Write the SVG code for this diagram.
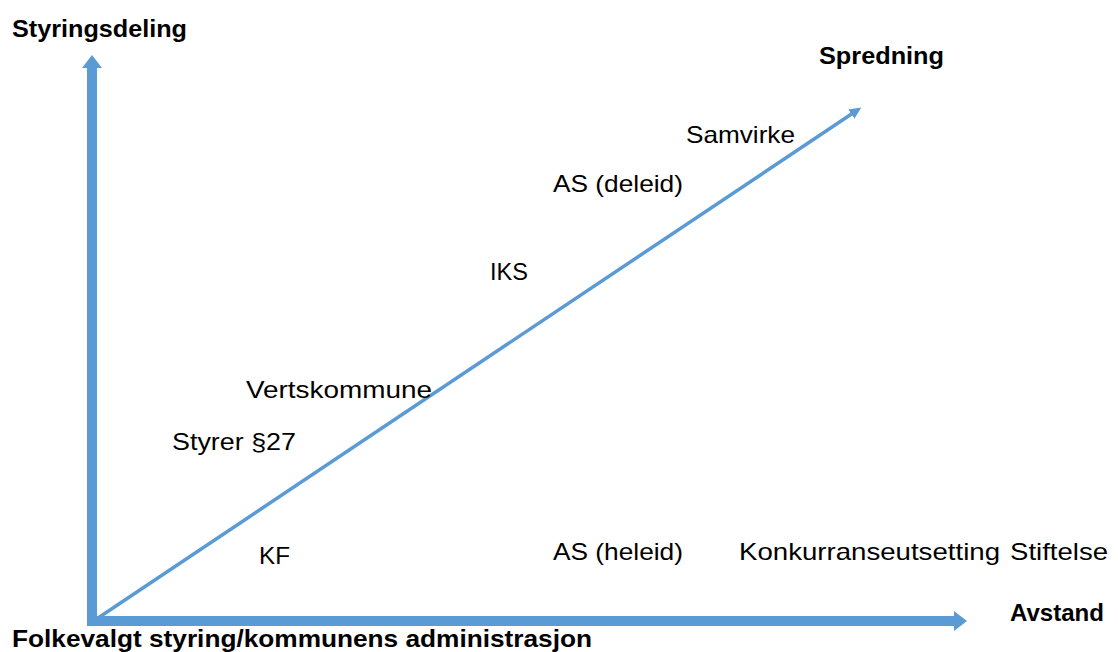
<svg xmlns="http://www.w3.org/2000/svg" width="1118" height="652" viewBox="0 0 1118 652">
<style>
.t{font-family:"Liberation Sans",Arial,sans-serif;font-size:24px;fill:#000}
.b{font-family:"Liberation Sans",Arial,sans-serif;font-size:24px;font-weight:bold;fill:#000}
.axis{stroke:#5B9BD5;stroke-width:10;fill:none}
.diag{stroke:#5B9BD5;stroke-width:3.5;fill:none}
</style>
<defs>
<marker id="bigHead" viewBox="0 -10 14 20" markerWidth="14" markerHeight="20" refX="0" refY="0" orient="auto" markerUnits="userSpaceOnUse">
<path d="M0,-10 L13,0 L0,10 z" fill="#5B9BD5"/>
</marker>
<marker id="smallHead" viewBox="0 -6 12 12" markerWidth="12" markerHeight="12" refX="2" refY="0" orient="auto" markerUnits="userSpaceOnUse">
<path d="M0,-5.5 L12,0 L0,5.5 z" fill="#5B9BD5"/>
</marker>
</defs>
<rect width="1118" height="652" fill="#fff"/>
<g id="connectors">
<line class="axis" x1="92" y1="626" x2="92" y2="68" marker-end="url(#bigHead)"/>
<line class="axis" x1="87" y1="621" x2="954" y2="621" marker-end="url(#bigHead)"/>
<line class="diag" x1="95" y1="620" x2="853" y2="113" marker-end="url(#smallHead)"/>
</g>
<g id="styringsdeling"><text class="b" x="12" y="37" textLength="175" lengthAdjust="spacingAndGlyphs">Styringsdeling</text></g>
<g id="spredning"><text class="b" x="819" y="64" textLength="125" lengthAdjust="spacingAndGlyphs">Spredning</text></g>
<g id="avstand"><text class="b" x="1010" y="621" textLength="94" lengthAdjust="spacingAndGlyphs">Avstand</text></g>
<g id="folkevalgt"><text class="b" x="12" y="647" textLength="580" lengthAdjust="spacingAndGlyphs">Folkevalgt styring/kommunens administrasjon</text></g>
<g id="samvirke"><text class="t" x="686" y="143" textLength="109" lengthAdjust="spacingAndGlyphs">Samvirke</text></g>
<g id="as-deleid"><text class="t" x="553" y="192" textLength="130" lengthAdjust="spacingAndGlyphs">AS (deleid)</text></g>
<g id="iks"><text class="t" x="490" y="280" textLength="38" lengthAdjust="spacingAndGlyphs">IKS</text></g>
<g id="vertskommune"><text class="t" x="246" y="398" textLength="186" lengthAdjust="spacingAndGlyphs">Vertskommune</text></g>
<g id="styrer27"><text class="t" x="172" y="450" textLength="124" lengthAdjust="spacingAndGlyphs">Styrer §27</text></g>
<g id="kf"><text class="t" x="259" y="564" textLength="31" lengthAdjust="spacingAndGlyphs">KF</text></g>
<g id="as-heleid"><text class="t" x="553" y="560" textLength="130" lengthAdjust="spacingAndGlyphs">AS (heleid)</text></g>
<g id="konkurranseutsetting"><text class="t" x="739" y="560" textLength="261" lengthAdjust="spacingAndGlyphs">Konkurranseutsetting</text></g>
<g id="stiftelse"><text class="t" x="1010" y="560" textLength="98" lengthAdjust="spacingAndGlyphs">Stiftelse</text></g>
</svg>
